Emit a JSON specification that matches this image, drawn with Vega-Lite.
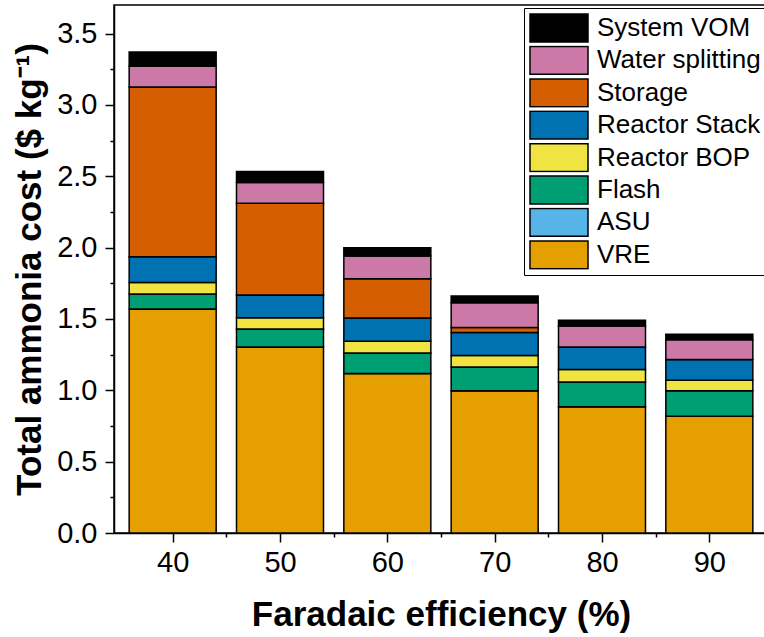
{
  "$schema": "https://vega.github.io/schema/vega-lite/v6.json",
  "width": 654,
  "height": 528,
  "autosize": {"type": "none"},
  "padding": {"left": 114, "top": 5, "right": -4, "bottom": 104},
  "background": "white",
  "config": {
    "font": "Liberation Sans",
    "view": {"stroke": "black", "strokeWidth": 1.5},
    "axis": {
      "grid": false,
      "domainColor": "black",
      "domainWidth": 1.5,
      "tickColor": "black",
      "tickWidth": 1.5,
      "labelColor": "black",
      "labelFont": "Liberation Sans",
      "labelFontSize": 29,
      "titleFont": "Liberation Sans",
      "titleFontSize": 35,
      "titleFontWeight": "bold",
      "titleColor": "black"
    }
  },
  "data": {
    "values": [
      {"FE": 40, "Component": "VRE", "Cost": 1.57},
      {"FE": 40, "Component": "ASU", "Cost": 0},
      {"FE": 40, "Component": "Flash", "Cost": 0.105},
      {"FE": 40, "Component": "Reactor BOP", "Cost": 0.08},
      {"FE": 40, "Component": "Reactor Stack", "Cost": 0.18},
      {"FE": 40, "Component": "Storage", "Cost": 1.19},
      {"FE": 40, "Component": "Water splitting", "Cost": 0.145},
      {"FE": 40, "Component": "System VOM", "Cost": 0.1},
      {"FE": 50, "Component": "VRE", "Cost": 1.304},
      {"FE": 50, "Component": "ASU", "Cost": 0},
      {"FE": 50, "Component": "Flash", "Cost": 0.126},
      {"FE": 50, "Component": "Reactor BOP", "Cost": 0.079},
      {"FE": 50, "Component": "Reactor Stack", "Cost": 0.159},
      {"FE": 50, "Component": "Storage", "Cost": 0.643},
      {"FE": 50, "Component": "Water splitting", "Cost": 0.145},
      {"FE": 50, "Component": "System VOM", "Cost": 0.077},
      {"FE": 60, "Component": "VRE", "Cost": 1.118},
      {"FE": 60, "Component": "ASU", "Cost": 0},
      {"FE": 60, "Component": "Flash", "Cost": 0.144},
      {"FE": 60, "Component": "Reactor BOP", "Cost": 0.082},
      {"FE": 60, "Component": "Reactor Stack", "Cost": 0.163},
      {"FE": 60, "Component": "Storage", "Cost": 0.275},
      {"FE": 60, "Component": "Water splitting", "Cost": 0.159},
      {"FE": 60, "Component": "System VOM", "Cost": 0.058},
      {"FE": 70, "Component": "VRE", "Cost": 0.996},
      {"FE": 70, "Component": "ASU", "Cost": 0},
      {"FE": 70, "Component": "Flash", "Cost": 0.168},
      {"FE": 70, "Component": "Reactor BOP", "Cost": 0.08},
      {"FE": 70, "Component": "Reactor Stack", "Cost": 0.161},
      {"FE": 70, "Component": "Storage", "Cost": 0.035},
      {"FE": 70, "Component": "Water splitting", "Cost": 0.174},
      {"FE": 70, "Component": "System VOM", "Cost": 0.047},
      {"FE": 80, "Component": "VRE", "Cost": 0.884},
      {"FE": 80, "Component": "ASU", "Cost": 0},
      {"FE": 80, "Component": "Flash", "Cost": 0.175},
      {"FE": 80, "Component": "Reactor BOP", "Cost": 0.087},
      {"FE": 80, "Component": "Reactor Stack", "Cost": 0.158},
      {"FE": 80, "Component": "Storage", "Cost": 0},
      {"FE": 80, "Component": "Water splitting", "Cost": 0.147},
      {"FE": 80, "Component": "System VOM", "Cost": 0.04},
      {"FE": 90, "Component": "VRE", "Cost": 0.819},
      {"FE": 90, "Component": "ASU", "Cost": 0},
      {"FE": 90, "Component": "Flash", "Cost": 0.177},
      {"FE": 90, "Component": "Reactor BOP", "Cost": 0.075},
      {"FE": 90, "Component": "Reactor Stack", "Cost": 0.144},
      {"FE": 90, "Component": "Storage", "Cost": 0},
      {"FE": 90, "Component": "Water splitting", "Cost": 0.14},
      {"FE": 90, "Component": "System VOM", "Cost": 0.038}
    ]
  },
  "transform": [
    {"calculate": "indexof(['VRE','ASU','Flash','Reactor BOP','Reactor Stack','Storage','Water splitting','System VOM'], datum.Component)", "as": "StackOrder"}
  ],
  "mark": {"type": "bar", "width": 87, "stroke": "black", "strokeWidth": 1.5, "opacity": 1},
  "encoding": {
    "x": {
      "field": "FE",
      "type": "quantitative",
      "scale": {"domain": [35, 95], "nice": false, "zero": false},
      "axis": {
        "title": "Faradaic efficiency (%)",
        "values": [40, 45, 50, 55, 60, 65, 70, 75, 80, 85, 90],
        "labelExpr": "datum.value % 10 == 0 ? datum.label : ''",
        "tickSize": {"condition": {"test": "datum.value % 10 == 0", "value": 9}, "value": 4},
        "labelPadding": 6,
        "titlePadding": 20
      }
    },
    "y": {
      "field": "Cost",
      "type": "quantitative",
      "stack": "zero",
      "scale": {"domain": [0, 3.7], "nice": false},
      "axis": {
        "title": "Total ammonia cost ($ kg⁻¹)",
        "values": [0, 0.25, 0.5, 0.75, 1, 1.25, 1.5, 1.75, 2, 2.25, 2.5, 2.75, 3, 3.25, 3.5],
        "labelExpr": "abs(datum.value*2 - round(datum.value*2)) < 0.001 ? format(datum.value, '.1f') : ''",
        "tickSize": {"condition": {"test": "abs(datum.value*2 - round(datum.value*2)) < 0.001", "value": 9}, "value": 4},
        "labelPadding": 8,
        "titlePadding": 9
      }
    },
    "order": {"field": "StackOrder", "type": "quantitative", "sort": "ascending"},
    "color": {
      "field": "Component",
      "type": "nominal",
      "sort": ["System VOM", "Water splitting", "Storage", "Reactor Stack", "Reactor BOP", "Flash", "ASU", "VRE"],
      "scale": {
        "domain": ["System VOM", "Water splitting", "Storage", "Reactor Stack", "Reactor BOP", "Flash", "ASU", "VRE"],
        "range": ["#000000", "#CC79A7", "#D55E00", "#0072B2", "#F0E442", "#009E73", "#56B4E9", "#E69F00"]
      },
      "legend": {
        "title": null,
        "orient": "none",
        "legendX": 410,
        "legendY": 3,
        "symbolType": "M-1,-0.48H1V0.48H-1Z",
        "symbolSize": 3364,
        "symbolStrokeColor": "black",
        "symbolStrokeWidth": 1.5,
        "symbolOpacity": 1,
        "labelFont": "Liberation Sans",
        "labelFontSize": 26,
        "labelColor": "black",
        "labelOffset": 8,
        "labelLimit": 300,
        "clipHeight": 30,
        "strokeColor": "black",
        "fillColor": "white",
        "padding": 5,
        "rowPadding": 2.4
      }
    }
  }
}
